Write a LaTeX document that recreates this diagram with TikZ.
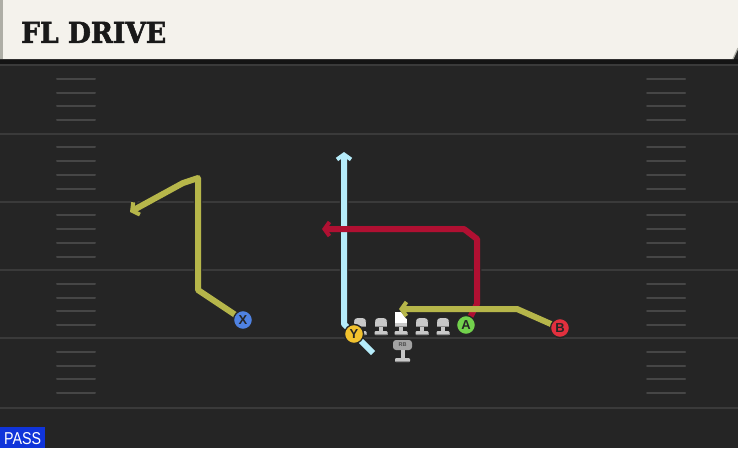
\documentclass[tikz,border=0pt]{standalone}
\usepackage{graphicx}
\usepackage{fontspec}
\setmainfont{Liberation Sans}
\newfontfamily\titlefont{DejaVu Serif}[BoldFeatures={FakeBold=2}]
\usetikzlibrary{arrows.meta}
\definecolor{fieldbg}{HTML}{252525}
\definecolor{yardc}{HTML}{3A3A3A}
\definecolor{hashc}{HTML}{464646}
\definecolor{titlebg}{HTML}{F4F2EC}
\definecolor{titleedge}{HTML}{AEAEA6}
\definecolor{passblue}{HTML}{1034DA}
\definecolor{olive}{HTML}{B6B64A}
\definecolor{crimson}{HTML}{B01032}
\definecolor{skyc}{HTML}{B6ECFA}
\definecolor{xblue}{HTML}{4F82E2}
\definecolor{yyellow}{HTML}{F2C22E}
\definecolor{agreen}{HTML}{72D24C}
\definecolor{bred}{HTML}{E2303E}
\definecolor{linegray}{HTML}{C8C8C8}
\definecolor{linedark}{HTML}{8C8C8C}
\tikzset{
  yardline/.style={draw=yardc, line width=2pt},
  hashmark/.style={draw=hashc, line width=2pt, line cap=round},
  routeoutline/.style={draw=black!85, line width=8.5pt, line join=round},
  route/.style={line width=6pt, line join=round},
  tipo/.style={-{Straight Barb[length=6pt,width=16pt,line width=6pt]}},
  tip/.style={-{Straight Barb[length=5pt,width=14pt,line width=4pt]}},
  player/.style={circle, draw=black!85, line width=1.3pt, minimum size=19pt, inner sep=0pt,
    font=\fontsize{13}{13}\selectfont\bfseries, text=black!85},
  lineman/.pic={
    \fill[linegray] (-6,-9) rectangle (6,-13) ;
    \fill[linegray, rounded corners=3.5pt] (-6,-11) -- (-6,-17) -- (6,-17) -- (6,-11) -- cycle;
    \fill[linedark] (-6,-9) rectangle (6,-8);
    \fill[linegray] (-2,-8) rectangle (2,-3.5);
    \fill[linegray, rounded corners=1pt] (-6.5,-4) rectangle (6.5,0);
    \fill[linedark] (-6.5,-1) rectangle (6.5,0);
  },
  centerman/.pic={
    \fill[white] (-6,-23) rectangle (6,-12);
    \fill[linegray] (-6,-12) rectangle (6,-8);
    \fill[linedark] (-6,-9) rectangle (6,-8);
    \fill[linegray] (-2,-8) rectangle (2,-3.5);
    \fill[linegray, rounded corners=1pt] (-6.5,-4) rectangle (6.5,0);
    \fill[linedark] (-6.5,-1) rectangle (6.5,0);
  }
}
\begin{document}
\begin{tikzpicture}[x=1pt,y=-1pt]
\useasboundingbox (0,0) rectangle (738,448);
\fill[fieldbg] (0,0) rectangle (738,448);
% yard lines and hash marks
\foreach \yy in {65,133.5,201.5,270,338,408} \draw[yardline] (0,\yy) -- (738,\yy);
\foreach \yy in {65,133.5,201.5,270,338} {
  \foreach \k in {1,2,3,4} {
    \draw[hashmark] (57,{\yy+\k*13.75}) -- (95,{\yy+\k*13.75});
    \draw[hashmark] (647,{\yy+\k*13.75}) -- (685,{\yy+\k*13.75});
  }
}
% title bar
\fill[black!92] (0,59) rectangle (738,64);
\fill[titlebg] (0,0) -- (738,0) -- (738,48) -- (733,59) -- (0,59) -- cycle;
\fill[titleedge] (0,0) rectangle (3,59);
\draw[titleedge, line width=1.2pt] (738,48) -- (733,59);
\node[anchor=south west, inner sep=0pt, text=black!90] (title) at (21,43)
  {\resizebox{145pt}{21pt}{\titlefont\bfseries FL DRIVE}};
% PASS label
\fill[passblue] (0,427) rectangle (45,448);
\node[anchor=south west, inner sep=0pt, text=white] (pass) at (4,445)
  {\resizebox{37pt}{12pt}{PASS}};
% offensive line
\pic at (360,335) {lineman};
\pic at (381,335) {lineman};
\pic at (401,335) {centerman};
\pic at (422,335) {lineman};
\pic at (443,335) {lineman};
% running back
\node[fill=linedark!80!white, rounded corners=3pt, minimum width=19pt, minimum height=10pt,
  inner sep=0pt, font=\fontsize{5.5}{5.5}\selectfont\bfseries, text=black!70] (RB) at (402.5,345) {RB};
\fill[linegray] (400.5,350) rectangle (404.5,359);
\fill[linegray, rounded corners=1pt] (395,358) rectangle (410,362);
\fill[linedark] (395,361) rectangle (410,362);
% players
\node[player, fill=xblue] (X) at (243,320) {X};
\node[player, fill=yyellow] (Y) at (354,334) {Y};
\node[player, fill=agreen] (A) at (466,325) {A};
\node[player, fill=bred] (B) at (560,328) {B};
% route end points
\coordinate (xend) at (130,212);
\coordinate (ystart) at (373,353);
\coordinate (yend) at (344,152);
\coordinate (aend) at (322,229);
\coordinate (bend) at (399,309);
% route outlines
\draw[routeoutline, tipo] (X.center) -- (198,290) -- (198,178) -- (183,183) -- (xend);
\draw[routeoutline, tipo] (ystart) -- (Y.center) -- (344,324) -- (yend);
\draw[routeoutline, tipo] (A.center) -- (477,304) -- (477,239) -- (464,229) -- (aend);
\draw[routeoutline, tipo] (B.center) -- (517,309) -- (bend);
% routes
\draw[route, olive, tip] (X.center) -- (198,290) -- (198,178) -- (183,183) -- (xend);
\draw[route, skyc, tip] (ystart) -- (Y.center) -- (344,324) -- (yend);
\draw[route, crimson, tip] (A.center) -- (477,304) -- (477,239) -- (464,229) -- (aend);
\draw[route, olive, tip] (B.center) -- (517,309) -- (bend);
% players on top
\node[player, fill=xblue] at (X) {X};
\node[player, fill=yyellow] at (Y) {Y};
\node[player, fill=agreen] at (A) {A};
\node[player, fill=bred] at (B) {B};
\end{tikzpicture}
\end{document}
